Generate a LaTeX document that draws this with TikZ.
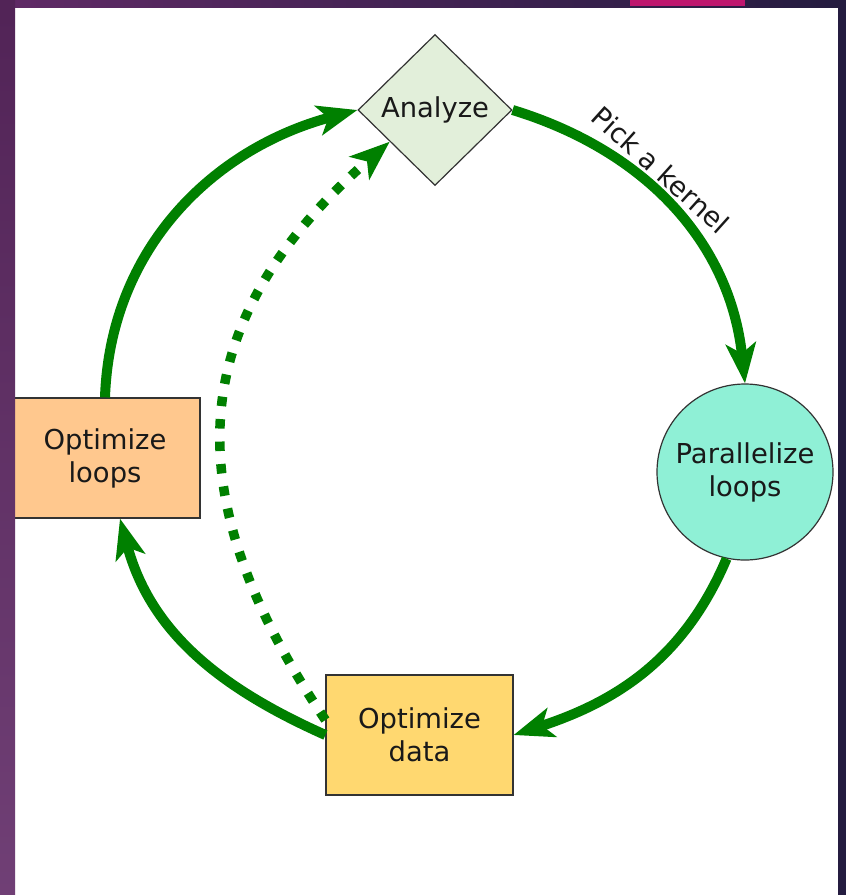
\documentclass[tikz,border=0pt]{standalone}
\usepackage{fontspec}
\setmainfont{DejaVu Sans}
\usetikzlibrary{shapes.geometric,arrows.meta}

\definecolor{flowgreen}{RGB}{0,128,0}
\definecolor{diamondfill}{RGB}{226,239,218}
\definecolor{circlefill}{RGB}{143,240,214}
\definecolor{loopsfill}{RGB}{255,200,142}
\definecolor{datafill}{RGB}{255,216,112}
\definecolor{framedark}{RGB}{36,28,64}
\definecolor{framepurple}{RGB}{96,42,102}
\definecolor{framemagenta}{RGB}{190,22,110}

\begin{document}
\begin{tikzpicture}[x=1pt,y=1pt,
    flow/.style={draw=flowgreen,line width=10pt,-{Stealth[length=40pt,width=30pt,inset=10pt]}},
    hint/.style={flow,line width=9.5pt,dash pattern=on 9.5pt off 13pt},
    box/.style={rectangle,minimum height=120pt}
  ]
  \useasboundingbox (0,0) rectangle (846,-895);

  % frame and white page
  \shade[left color=framepurple,right color=framedark] (0,0) rectangle (846,-895);
  \fill[white] (15,-8) rectangle (838,-895);
  \fill[framemagenta] (630,0) rectangle (745,-6);

  \begin{scope}[every node/.style={draw=black!80,line width=1.2pt,align=center,
      text=black!90,font=\fontsize{27.4}{33}\selectfont}]
    \node (analyze) at (435,-110) [diamond,fill=diamondfill,inner sep=0pt,
      minimum width=154pt,minimum height=151pt] {Analyze};
    \node (par)     at (745,-472) [circle,fill=circlefill,minimum size=176pt] {Parallelize\\loops};
    \node (odata)   at (419.5,-735) [box,fill=datafill,minimum width=187pt] {Optimize\\data};
    \node (oloops)  at (105,-458) [box,fill=loopsfill,minimum width=190pt] {Optimize\\loops};
  \end{scope}

  \path (analyze.east) edge[flow,out=-17,in=96]
    node[sloped,above,pos=0.4,font=\fontsize{27.4}{33}\selectfont,text=black!90] {Pick a kernel} (par.north);
  \path (par.-102) edge[flow,out=-113,in=18] (odata.east);
  \path (odata.west) edge[flow,out=156,in=-75] ([xshift=15pt]oloops.south);
  \path (oloops.north) edge[flow,out=88,in=195] (analyze.west);
  \path ([yshift=15pt]odata.west) edge[hint,out=124,in=221,looseness=1.2] (analyze.215);

  % left edge of the frame covers the box
  \shade[top color=framepurple!85!black,bottom color=framepurple!90!white] (0,0) rectangle (15,-895);
\end{tikzpicture}
\end{document}
